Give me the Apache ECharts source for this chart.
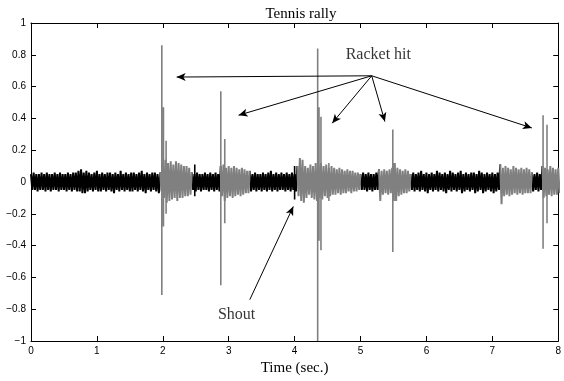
<!DOCTYPE html>
<html><head><meta charset="utf-8">
<script src="https://cdn.jsdelivr.net/npm/echarts@6/dist/echarts.min.js"></script>
<style>html,body{margin:0;padding:0;background:#fff}#c{width:564px;height:381px}</style>
</head><body><div id="c"></div>
<script>
// ---- data ----
const sampleStep = 0.04; // envelope samples start at t = 0 s
const envUpper = [
0.05,0.06,0.05,0.05,0.06,0.05,0.06,0.05,0.05,0.06,
0.05,0.06,0.05,0.05,0.06,0.05,0.06,0.06,0.07,0.08,
0.06,0.07,0.06,0.05,0.06,0.07,0.05,0.06,0.05,0.06,
0.06,0.05,0.06,0.05,0.07,0.05,0.06,0.05,0.06,0.06,
0.05,0.06,0.07,0.05,0.06,0.05,0.06,0.06,0.05,0.06,
0.12,0.14,0.12,0.13,0.11,0.13,0.12,0.11,0.10,0.10,0.09,
0.06,0.05,0.06,0.05,0.05,0.06,0.05,0.06,0.05,0.06,0.05,
0.10,0.11,0.09,0.10,0.09,0.10,0.09,0.08,0.09,0.08,0.07,0.07,
0.05,0.06,0.05,0.05,0.06,0.05,0.06,0.07,0.05,0.06,0.05,0.06,0.05,0.06,0.05,0.06,0.05,
0.10,0.15,0.14,0.10,0.09,0.11,0.10,0.12,0.11,0.12,0.10,0.11,0.09,0.10,0.09,0.08,0.09,0.08,0.07,0.08,0.07,0.07,0.06,0.06,
0.05,0.06,0.05,0.06,0.05,0.05,0.06,
0.08,0.07,0.08,0.07,0.08,0.09,0.12,0.09,0.08,0.07,0.08,0.07,
0.05,0.06,0.05,0.06,0.07,0.05,0.06,0.05,0.06,0.05,0.07,0.06,0.05,0.06,0.05,0.07,0.06,0.05,0.06,0.07,0.05,0.06,0.05,0.06,0.06,0.05,0.07,0.06,0.05,0.06,0.05,0.06,0.05,0.06,
0.11,0.09,0.10,0.09,0.08,0.10,0.09,0.08,0.09,0.08,0.09,0.08,
0.06,0.05,0.06,0.05,
0.10,0.09,0.08,0.10,0.09,0.08,0.09
];
const envLower = [
-0.05,-0.05,-0.06,-0.05,-0.05,-0.06,-0.05,-0.06,-0.05,-0.05,
-0.06,-0.05,-0.05,-0.06,-0.05,-0.06,-0.05,-0.06,-0.06,-0.07,
-0.07,-0.06,-0.05,-0.06,-0.05,-0.06,-0.06,-0.05,-0.06,-0.05,
-0.06,-0.07,-0.05,-0.06,-0.05,-0.06,-0.05,-0.06,-0.06,-0.05,
-0.06,-0.05,-0.06,-0.07,-0.05,-0.06,-0.05,-0.06,-0.07,-0.06,
-0.10,-0.13,-0.12,-0.11,-0.10,-0.12,-0.10,-0.10,-0.09,-0.09,-0.08,
-0.05,-0.06,-0.05,-0.06,-0.05,-0.05,-0.06,-0.05,-0.06,-0.05,-0.06,
-0.09,-0.12,-0.10,-0.09,-0.10,-0.09,-0.08,-0.09,-0.08,-0.07,-0.07,-0.06,
-0.05,-0.06,-0.05,-0.06,-0.05,-0.06,-0.05,-0.06,-0.05,-0.06,-0.05,-0.05,-0.06,-0.05,-0.06,-0.05,-0.06,
-0.09,-0.12,-0.13,-0.10,-0.08,-0.10,-0.11,-0.12,-0.10,-0.11,-0.09,-0.10,-0.09,-0.08,-0.08,-0.07,-0.08,-0.07,-0.07,-0.06,-0.07,-0.06,-0.06,-0.05,
-0.05,-0.05,-0.06,-0.05,-0.06,-0.05,-0.05,
-0.12,-0.08,-0.07,-0.08,-0.07,-0.08,-0.12,-0.09,-0.08,-0.07,-0.07,-0.06,
-0.05,-0.06,-0.05,-0.06,-0.05,-0.06,-0.07,-0.05,-0.06,-0.05,-0.06,-0.05,-0.06,-0.07,-0.05,-0.06,-0.05,-0.06,-0.05,-0.07,-0.06,-0.05,-0.06,-0.05,-0.07,-0.06,-0.05,-0.07,-0.06,-0.05,-0.06,-0.07,-0.06,-0.05,
-0.14,-0.09,-0.08,-0.09,-0.08,-0.07,-0.08,-0.07,-0.08,-0.07,-0.07,-0.07,
-0.06,-0.05,-0.06,-0.05,
-0.10,-0.09,-0.08,-0.09,-0.08,-0.08,-0.07
];
const grayIntervals = [[1.965,2.435],[2.865,3.335],[4.05,5.0],[5.28,5.75],[7.11,7.61],[7.74,8.05]];
const graySpikeT      = [1.985, 2.01, 2.05, 2.88, 2.94, 4.35, 4.37, 4.40, 4.52, 5.49, 5.51, 7.77, 7.83];
const graySpikeTop    = [0.86,  0.47, 0.26, 0.57, 0.27, 0.84, 0.47, 0.41, 0.12, 0.33, 0.12, 0.42, 0.36];
const graySpikeBottom = [-0.71,-0.28,-0.20,-0.65,-0.26,-1.00,-0.37,-0.43,-0.12,-0.44,-0.12,-0.42,-0.26];
const blackSpikeT      = [2.485, 4.00];
const blackSpikeTop    = [0.11, 0.10];
const blackSpikeBottom = [-0.09, -0.11];
const racketOrigin = [5.17, 0.668];
const racketTargets = [[2.21,0.66],[3.15,0.42],[4.57,0.37],[5.37,0.38],[7.60,0.34]];
const shoutArrow = [[3.32,-0.74],[3.98,-0.154]];
const racketLabel = {text:'Racket hit', at:[5.27,0.80]};
const shoutLabel = {text:'Shout', at:[3.12,-0.835]};
const titleText = 'Tennis rally';
const xName = 'Time (sec.)';

// ---- build series data ----
function isGray(t){ const m=t+sampleStep/2; return grayIntervals.some(g=>m>=g[0]&&m<g[1]); }
function buildNoise(wantGray){
  const out=[];
  for(let i=0;i<envUpper.length;i++){
    const t=i*sampleStep;
    if(isGray(t)===wantGray){
      out.push([t,envUpper[i]]);
      out.push([t+sampleStep/2,envLower[i]]);
      const n=i+1;
      if(n<envUpper.length && isGray(n*sampleStep)!==wantGray){ out.push([n*sampleStep,envUpper[n]]); out.push(null); }
    }
  }
  return out;
}
function buildSpikes(T,top,bot){
  const out=[];
  for(let i=0;i<T.length;i++){ out.push([T[i],top[i]]); out.push([T[i],bot[i]]); out.push(null); }
  return out;
}
const SERIF='"Liberation Serif","Times New Roman",serif';
const SANS='"Liberation Sans",Arial,sans-serif';
const minus=v=>String(Math.round(v*10)/10).replace('-','\u2212');
const chart=echarts.init(document.getElementById('c'),null,{renderer:'canvas'});
const axisCommon={type:'value',axisLine:{show:true,onZero:false,lineStyle:{color:'#000',width:1}},
  axisTick:{show:true,inside:true,length:5,lineStyle:{color:'#000'}},splitLine:{show:false}};
chart.setOption({
  animation:false,
  title:{text:titleText,left:296,top:2,textAlign:'center',textStyle:{fontFamily:SERIF,fontSize:15,fontWeight:'normal',color:'#000'}},
  grid:{left:31,right:3,top:23,bottom:34,containLabel:false},
  xAxis:[
    Object.assign({},axisCommon,{min:0,max:8,interval:1,position:'bottom',
      axisLabel:{color:'#000',fontFamily:SANS,fontSize:10,margin:5},
      name:xName,nameLocation:'middle',nameGap:20,nameTextStyle:{fontFamily:SERIF,fontSize:15,color:'#000'}}),
    Object.assign({},axisCommon,{min:0,max:8,interval:1,position:'top',axisLabel:{show:false}})
  ],
  yAxis:[
    Object.assign({},axisCommon,{min:-1,max:1,interval:0.2,position:'left',
      axisLabel:{color:'#000',fontFamily:SANS,fontSize:10,margin:5,formatter:minus}}),
    Object.assign({},axisCommon,{min:-1,max:1,interval:0.2,position:'right',axisLabel:{show:false}})
  ],
  series:[
    {type:'line',name:'noise',data:buildNoise(false),showSymbol:false,symbol:'none',connectNulls:false,
      lineStyle:{color:'#000',width:2},silent:true},
    {type:'line',name:'events',data:buildNoise(true),showSymbol:false,symbol:'none',connectNulls:false,
      lineStyle:{color:'#808080',width:2},silent:true},
    {type:'line',name:'graySpikes',data:buildSpikes(graySpikeT,graySpikeTop,graySpikeBottom),showSymbol:false,symbol:'none',
      connectNulls:false,lineStyle:{color:'#808080',width:1.6},silent:true},
    {type:'line',name:'blackSpikes',data:buildSpikes(blackSpikeT,blackSpikeTop,blackSpikeBottom),showSymbol:false,symbol:'none',
      connectNulls:false,lineStyle:{color:'#000',width:1.6},silent:true},
    {type:'scatter',name:'annotations',symbolSize:0,silent:true,
      data:[{value:racketLabel.at,label:{formatter:racketLabel.text}},{value:shoutLabel.at,label:{formatter:shoutLabel.text}}],
      label:{show:true,position:'inside',color:'#000',fontFamily:SERIF,fontSize:16},
      markLine:{silent:true,symbol:['none','arrow'],symbolSize:[6,9],animation:false,
        label:{show:false},lineStyle:{color:'#000',width:1,type:'solid'},emphasis:{disabled:true},
        data:racketTargets.map(p=>[{coord:racketOrigin},{coord:p}]).concat([[{coord:shoutArrow[0]},{coord:shoutArrow[1]}]])}}
  ]
});
</script></body></html>
